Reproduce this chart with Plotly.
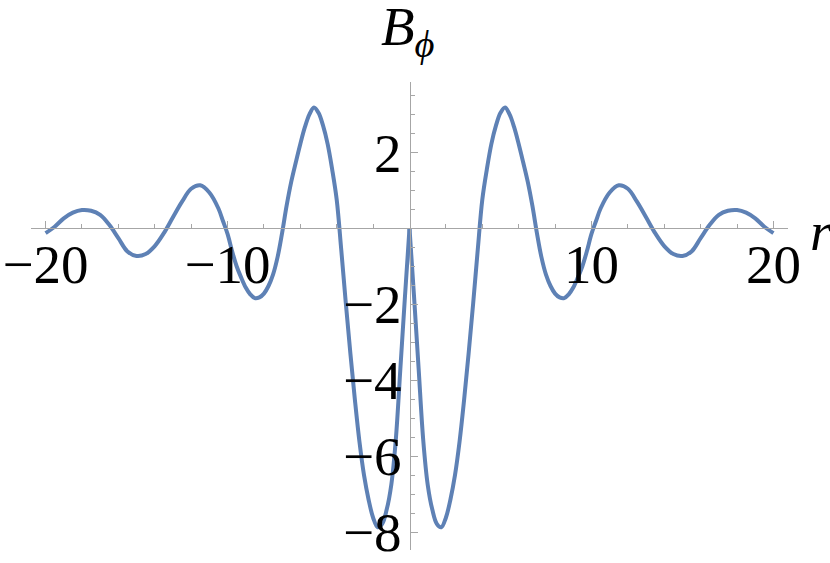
import plotly.graph_objects as go

# Right half (r >= 0)
r_right = [0, 0.25, 0.5, 0.75, 1.0, 1.25, 1.5, 1.75, 2.0, 2.25, 2.5, 2.75, 3.0, 3.25, 3.5, 3.75,
           4.0, 4.25, 4.5, 4.75, 5.0, 5.25, 5.5, 5.75, 6.0, 6.25, 6.5, 6.75, 7.0, 7.25, 7.5, 7.75,
           8.0, 8.25, 8.5, 8.75, 9.0, 9.25, 9.5, 9.75, 10.0, 10.25, 10.5, 11.0, 11.5, 12.0, 12.5,
           13.0, 13.5, 14.0, 14.5, 15.0, 15.5, 16.0, 16.5, 17.0, 17.5, 18.0, 18.5, 19.0, 19.5, 20.0]
b_right = [0, -1.80, -3.68, -5.55, -6.75, -7.40, -7.78, -7.87, -7.62, -7.14, -6.50, -5.62, -4.52, -3.29, -1.97, -0.57,
           0.75, 1.55, 2.22, 2.70, 3.04, 3.18, 3.00, 2.66, 2.22, 1.73, 1.22, 0.60, -0.12, -0.76, -1.22, -1.52,
           -1.72, -1.82, -1.84, -1.74, -1.56, -1.30, -1.00, -0.60, -0.15, 0.19, 0.52, 0.94, 1.13, 1.04, 0.70,
           0.29, -0.13, -0.47, -0.68, -0.73, -0.61, -0.26, 0.09, 0.35, 0.46, 0.48, 0.41, 0.26, 0.04, -0.13]
# Left half (r <= 0)
r_left = [0, -0.25, -0.5, -0.75, -1.0, -1.25, -1.5, -1.75, -2.0, -2.25, -2.5, -2.75, -3.0, -3.25, -3.5, -3.75,
          -4.0, -4.25, -4.5, -4.75, -5.0, -5.25, -5.5, -5.75, -6.0, -6.25, -6.5, -6.75, -7.0, -7.25, -7.5, -7.75,
          -8.0, -8.25, -8.5, -8.75, -9.0, -9.25, -9.5, -9.75, -10.0, -10.25, -10.5, -11.0, -11.5, -12.0, -12.5,
          -13.0, -13.5, -14.0, -14.5, -15.0, -15.5, -16.0, -16.5, -17.0, -17.5, -18.0, -18.5, -19.0, -19.5, -20.0]
b_left = [0, -1.80, -3.68, -5.55, -6.75, -7.40, -7.78, -7.87, -7.62, -7.14, -6.50, -5.62, -4.52, -3.29, -1.97, -0.57,
          0.75, 1.55, 2.22, 2.70, 3.04, 3.18, 3.00, 2.66, 2.22, 1.73, 1.22, 0.60, -0.12, -0.76, -1.22, -1.52,
          -1.72, -1.82, -1.84, -1.74, -1.56, -1.30, -1.00, -0.60, -0.15, 0.19, 0.52, 0.94, 1.13, 1.04, 0.70,
          0.29, -0.13, -0.47, -0.68, -0.73, -0.61, -0.26, 0.09, 0.35, 0.46, 0.48, 0.41, 0.26, 0.04, -0.13]

x_tick_vals = [-20, -10, 10, 20]
x_tick_text = ["\u221220", "\u221210", "10", "20"]
x_minor_vals = [-18, -16, -14, -12, -8, -6, -4, -2, 2, 4, 6, 8, 12, 14, 16, 18]
y_tick_vals = [-8, -6, -4, -2, 2]
y_tick_text = ["\u22128", "\u22126", "\u22124", "\u22122", "2"]
y_minor_vals = [-8.5, -7.5, -7, -6.5, -5.5, -5, -4.5, -3.5, -3, -2.5, -1.5, -1, -0.5,
                0.5, 1, 1.5, 2.5, 3, 3.5]

X_RANGE = [-20.8, 20.8]
Y_RANGE = [-8.47, 3.85]

line_color = "#5E81B5"
axis_color = "#a6a6a6"
font_family = "Liberation Serif, Times New Roman, serif"
FS = 55

fig = go.Figure()
for rr, bb in [(r_right, b_right), (r_left, b_left)]:
    fig.add_trace(go.Scatter(x=rr, y=bb, mode="lines",
                             line=dict(color=line_color, width=4, shape="spline", smoothing=1.0),
                             showlegend=False, hoverinfo="skip"))

xpos = (0 - Y_RANGE[0]) / (Y_RANGE[1] - Y_RANGE[0])
ypos = (0 - X_RANGE[0]) / (X_RANGE[1] - X_RANGE[0])

fig.update_layout(
    width=830, height=563,
    margin=dict(l=31, r=42, t=82, b=13, autoexpand=False),
    paper_bgcolor="white", plot_bgcolor="white",
    font=dict(family=font_family, size=FS, color="black"),
    xaxis=dict(range=X_RANGE, anchor="free", position=xpos, showgrid=False, zeroline=False,
               automargin=False, ticklabeloverflow="allow",
               showline=True, linecolor=axis_color, linewidth=1,
               tickmode="array", tickvals=x_tick_vals, ticktext=x_tick_text,
               ticks="inside", ticklen=7, tickcolor=axis_color, tickwidth=1,
               ticklabelstandoff=-12,
               minor=dict(tickmode="array", tickvals=x_minor_vals, ticks="inside", ticklen=4,
                          tickcolor=axis_color, tickwidth=1, showgrid=False),
               tickfont=dict(family=font_family, size=FS, color="black")),
    yaxis=dict(range=Y_RANGE, anchor="free", position=ypos, showgrid=False, zeroline=False,
               automargin=False, ticklabeloverflow="allow",
               showline=True, linecolor=axis_color, linewidth=1,
               tickmode="array", tickvals=y_tick_vals, ticktext=y_tick_text,
               ticks="inside", ticklen=7, tickcolor=axis_color, tickwidth=1,
               ticklabelstandoff=-3,
               minor=dict(tickmode="array", tickvals=y_minor_vals, ticks="inside", ticklen=4,
                          tickcolor=axis_color, tickwidth=1, showgrid=False),
               tickfont=dict(family=font_family, size=FS, color="black")),
)

fig.add_annotation(text="<i>B</i><sub><i>\u03d5</i></sub>", xref="paper", yref="paper",
                   x=0.46, y=1.033, xanchor="left", yanchor="bottom", showarrow=False,
                   font=dict(family=font_family, size=FS, color="black"))
fig.add_annotation(text="<i>r</i>", xref="paper", yref="y",
                   x=1.026, y=-0.08, xanchor="left", yanchor="middle", showarrow=False,
                   font=dict(family=font_family, size=FS, color="black"))

fig.write_html("out.html", config={"displayModeBar": False},
               post_script="document.body.style.margin='0';")
